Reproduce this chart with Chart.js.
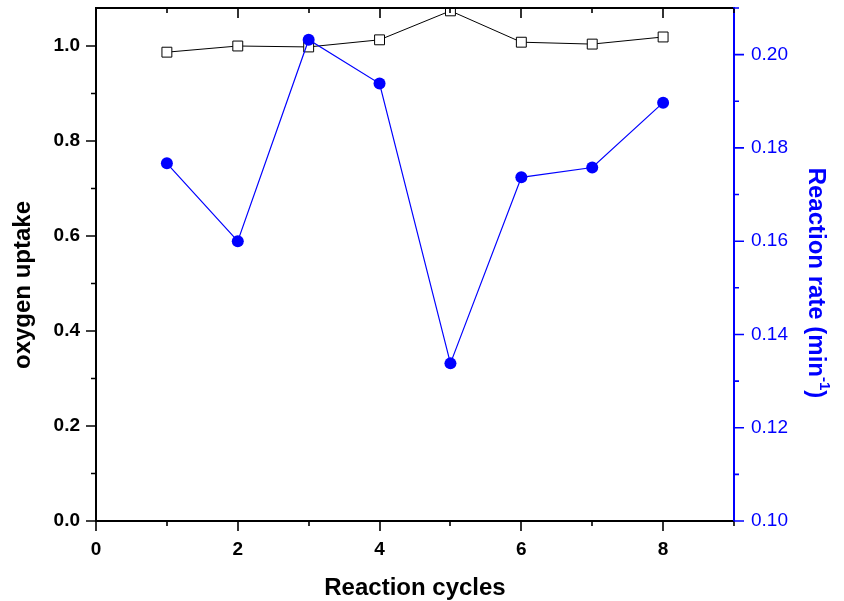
<!DOCTYPE html>
<html><head><meta charset="utf-8">
<script src="https://cdn.jsdelivr.net/npm/chart.js@4/dist/chart.umd.min.js"></script>
<style>html,body{margin:0;padding:0;background:#fff}#wrap{width:844px;height:601px}</style>
</head><body><div id="wrap"><canvas id="c" width="844" height="601"></canvas></div>
<script>
const cycles = [1, 2, 3, 4, 5, 6, 7, 8];
const oxygenUptake = [0.987, 1.000, 0.998, 1.013, 1.074, 1.008, 1.004, 1.019];
const reactionRate = [0.1767, 0.1600, 0.2032, 0.1938, 0.1338, 0.1737, 0.1758, 0.1897];
const xTicks = [0, 2, 4, 6, 8];
const xMinorTicks = [1, 3, 5, 7, 9];
const yLeftTicks = [0, 0.2, 0.4, 0.6, 0.8, 1.0];
const yLeftMinor = [0.1, 0.3, 0.5, 0.7, 0.9];
const yRightTicks = [0.10, 0.12, 0.14, 0.16, 0.18, 0.20];
const yRightMinor = [0.11, 0.13, 0.15, 0.17, 0.19, 0.21];
const xTitle = 'Reaction cycles';
const yLeftTitle = 'oxygen uptake';
const yRightTitle = 'Reaction rate (min';
const yRightSup = '-1';
const BLUE = '#0000ff';

const axesPlugin = {
  id: 'axesPlugin',
  afterDraw(chart) {
    const ctx = chart.ctx;
    const a = chart.chartArea;
    const sx = chart.scales.x, yl = chart.scales.y, yr = chart.scales.y1;
    ctx.save();
    ctx.lineCap = 'butt';
    ctx.lineWidth = 2;
    ctx.strokeStyle = '#000';
    ctx.beginPath();
    ctx.moveTo(a.left, a.top); ctx.lineTo(a.right, a.top);
    ctx.moveTo(a.left, a.top - 1); ctx.lineTo(a.left, a.bottom + 1);
    ctx.moveTo(a.left - 1, a.bottom); ctx.lineTo(a.right, a.bottom);
    ctx.stroke();
    ctx.strokeStyle = BLUE;
    ctx.beginPath();
    ctx.moveTo(a.right, a.top - 1); ctx.lineTo(a.right, a.bottom + 1);
    ctx.stroke();
    ctx.lineWidth = 1.6;
    ctx.strokeStyle = '#000';
    ctx.beginPath();
    const xt = (vals, len) => vals.forEach(v => {
      const p = Math.round(sx.getPixelForValue(v));
      ctx.moveTo(p, a.bottom); ctx.lineTo(p, a.bottom + len);
      ctx.moveTo(p, a.top); ctx.lineTo(p, a.top + len);
    });
    xt(xTicks, 10); xt(xMinorTicks, 5);
    yLeftTicks.forEach(v => { const p = yl.getPixelForValue(v); ctx.moveTo(a.left, p); ctx.lineTo(a.left - 10, p); });
    yLeftMinor.forEach(v => { const p = yl.getPixelForValue(v); ctx.moveTo(a.left, p); ctx.lineTo(a.left - 5, p); });
    ctx.stroke();
    ctx.strokeStyle = BLUE;
    ctx.beginPath();
    yRightTicks.forEach(v => { const p = yr.getPixelForValue(v); ctx.moveTo(a.right, p); ctx.lineTo(a.right + 10, p); });
    yRightMinor.forEach(v => { const p = yr.getPixelForValue(v); ctx.moveTo(a.right, p); ctx.lineTo(a.right + 5, p); });
    ctx.stroke();
    ctx.fillStyle = '#000';
    const mainFont = 'bold 24px "Liberation Sans", Arial, sans-serif';
    const supFont = 'bold 15px "Liberation Sans", Arial, sans-serif';
    ctx.font = mainFont;
    ctx.textAlign = 'center';
    ctx.textBaseline = 'middle';
    ctx.fillText(xTitle, (a.left + a.right) / 2, 588);
    ctx.save();
    ctx.translate(23, 285);
    ctx.rotate(-Math.PI / 2);
    ctx.fillText(yLeftTitle, 0, 0);
    ctx.restore();
    ctx.save();
    ctx.fillStyle = BLUE;
    ctx.translate(816, 283);
    ctx.rotate(Math.PI / 2);
    ctx.font = mainFont;
    const w1 = ctx.measureText(yRightTitle).width;
    const w3 = ctx.measureText(')').width;
    ctx.font = supFont;
    const w2 = ctx.measureText(yRightSup).width;
    const total = w1 + w2 + w3;
    const x0 = -total / 2;
    ctx.textAlign = 'left';
    ctx.font = mainFont;
    ctx.fillText(yRightTitle, x0, 0);
    ctx.font = supFont;
    ctx.fillText(yRightSup, x0 + w1, -8);
    ctx.font = mainFont;
    ctx.fillText(')', x0 + w1 + w2, 0);
    ctx.restore();
    ctx.restore();
  }
};

new Chart(document.getElementById('c'), {
  type: 'line',
  data: {
    datasets: [
      {
        label: 'Reaction rate',
        data: cycles.map((c, i) => ({ x: c, y: reactionRate[i] })),
        yAxisID: 'y1',
        borderColor: BLUE,
        backgroundColor: BLUE,
        borderWidth: 1.2,
        pointStyle: 'circle',
        pointRadius: 6,
        pointBorderWidth: 0,
        pointBackgroundColor: BLUE,
        tension: 0,
        order: 0
      },
      {
        label: 'oxygen uptake',
        data: cycles.map((c, i) => ({ x: c, y: oxygenUptake[i] })),
        yAxisID: 'y',
        borderColor: '#000',
        borderWidth: 1,
        pointStyle: 'rect',
        pointRadius: 7,
        pointBorderWidth: 1,
        pointBorderColor: '#000',
        pointBackgroundColor: '#fff',
        tension: 0,
        order: 1
      }
    ]
  },
  options: {
    responsive: false,
    animation: false,
    events: [],
    layout: { padding: { top: 8, left: 0, right: 0, bottom: 0 } },
    plugins: { legend: { display: false }, tooltip: { enabled: false } },
    scales: {
      x: {
        type: 'linear', min: 0, max: 9,
        grid: { display: false, drawTicks: false },
        border: { display: false },
        afterBuildTicks: s => { s.ticks = xTicks.map(v => ({ value: v })); },
        afterFit: s => { s.height = 80; s.paddingLeft = 0; s.paddingRight = 0; },
        ticks: {
          padding: 17, color: '#000', autoSkip: false, maxRotation: 0,
          font: { family: '"Liberation Sans", Arial, sans-serif', size: 19, weight: 'bold' },
          callback: v => String(v)
        }
      },
      y: {
        type: 'linear', position: 'left', min: 0, max: 1.08,
        grid: { display: false, drawTicks: false },
        border: { display: false },
        afterBuildTicks: s => { s.ticks = yLeftTicks.map(v => ({ value: v })); },
        afterFit: s => { s.width = 96; s.paddingTop = 0; s.paddingBottom = 0; },
        ticks: {
          padding: 16, color: '#000',
          font: { family: '"Liberation Sans", Arial, sans-serif', size: 19, weight: 'bold' },
          callback: v => Number(v).toFixed(1)
        }
      },
      y1: {
        type: 'linear', position: 'right', min: 0.10, max: 0.21,
        grid: { display: false, drawTicks: false },
        border: { display: false },
        afterBuildTicks: s => { s.ticks = yRightTicks.map(v => ({ value: v })); },
        afterFit: s => { s.width = 110; s.paddingTop = 0; s.paddingBottom = 0; },
        ticks: {
          padding: 17, color: BLUE,
          font: { family: '"Liberation Sans", Arial, sans-serif', size: 19 },
          callback: v => Number(v).toFixed(2)
        }
      }
    }
  },
  plugins: [axesPlugin]
});
</script>
</body></html>
